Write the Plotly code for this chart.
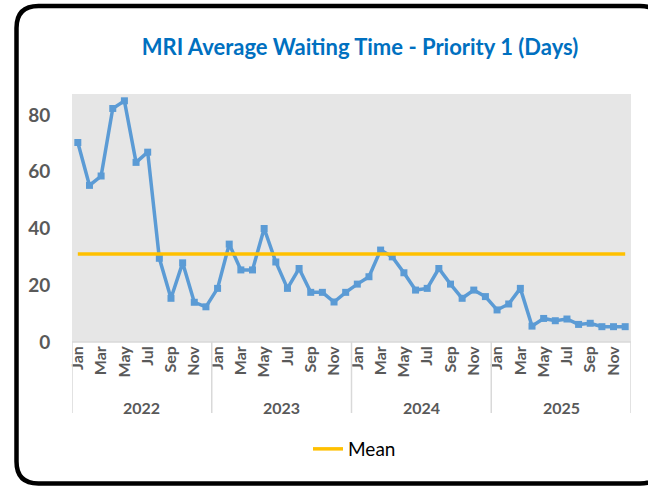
import plotly.graph_objects as go

years = ["2022", "2023", "2024", "2025"]
months = ["Jan", "Feb", "Mar", "Apr", "May", "Jun", "Jul", "Aug", "Sep", "Oct", "Nov", "Dec"]
categories = [f"{m} {y}" for y in years for m in months]

wait_2022 = [70.3, 55.2, 58.5, 82.3, 85.0, 63.3, 66.9, 29.5, 15.4, 27.9, 14.0, 12.4]
wait_2023 = [18.9, 34.5, 25.4, 25.4, 40.0, 28.2, 18.9, 25.9, 17.5, 17.5, 14.1, 17.5]
wait_2024 = [20.4, 23.0, 32.4, 30.0, 24.4, 18.3, 18.9, 25.9, 20.4, 15.4, 18.3, 16.0]
wait_2025 = [11.3, 13.4, 18.9, 5.6, 8.3, 7.5, 8.1, 6.2, 6.6, 5.4, 5.4, 5.4]
waiting = wait_2022 + wait_2023 + wait_2024 + wait_2025
mean_value = 31.0
mean_line = [mean_value] * len(categories)

shown_months = ["Jan", "Mar", "May", "Jul", "Sep", "Nov"]

W, H = 648, 486
L, R, T, B = 72, 17, 94, 144
PW, PH = W - L - R, H - T - B

def px_x(px):
    return (px - L) / PW

def px_y(py):
    return (H - B - py) / PH

fig = go.Figure()
fig.add_trace(go.Scatter(
    x=categories, y=waiting, mode="lines+markers", name="Waiting",
    line=dict(color="#5B9BD5", width=3.5),
    marker=dict(symbol="square", size=7, color="#5B9BD5"),
    showlegend=False,
))
fig.add_trace(go.Scatter(
    x=categories, y=mean_line, mode="lines", name="Mean",
    line=dict(color="#FFC000", width=3.5),
))

tickvals = [c for c in categories if c.split()[0] in shown_months]
ticktext = [c.split()[0] for c in tickvals]

shapes = []
for i in range(len(years) + 1):
    xv = i * 12 - 0.5
    shapes.append(dict(type="line", xref="x", yref="paper", x0=xv, x1=xv,
                       y0=0, y1=px_y(413), line=dict(color="#D9D9D9", width=1.5)))
shapes.append(dict(type="line", xref="paper", yref="paper", x0=0, x1=1, y0=0, y1=0,
                   line=dict(color="#D9D9D9", width=1.5)))

bl, bt, br, bb, rad = 16.5, 6, 662, 483.5, 22
def P(x, y):
    return f"{px_x(x):.5f},{px_y(y):.5f}"
path = (f"M {P(bl + rad, bt)} L {P(br - rad, bt)} Q {P(br, bt)} {P(br, bt + rad)} "
        f"L {P(br, bb - rad)} Q {P(br, bb)} {P(br - rad, bb)} "
        f"L {P(bl + rad, bb)} Q {P(bl, bb)} {P(bl, bb - rad)} "
        f"L {P(bl, bt + rad)} Q {P(bl, bt)} {P(bl + rad, bt)} Z")
shapes.append(dict(type="path", xref="paper", yref="paper", path=path,
                   line=dict(color="black", width=4.5), layer="above"))

annotations = []
for i, y in enumerate(years):
    annotations.append(dict(x=i * 12 + 5.5, xref="x", y=px_y(407), yref="paper",
                            text=y, showarrow=False, xanchor="center", yanchor="middle",
                            font=dict(family="Lato", size=16, color="#595959", weight="bold")))

fig.update_layout(
    width=W, height=H,
    margin=dict(l=L, r=R, t=T, b=B, autoexpand=False),
    paper_bgcolor="white",
    plot_bgcolor="#E6E6E6",
    title=dict(text="MRI Average Waiting Time - Priority 1 (Days)",
               x=(360 - L) / PW, xref="paper", xanchor="center",
               y=1 - 47 / H, yref="container", yanchor="middle",
               font=dict(family="Lato", size=22, color="#0070C0", weight="bold")),
    xaxis=dict(type="category", categoryorder="array", categoryarray=categories,
               range=[-0.5, len(categories) - 0.5],
               tickmode="array", tickvals=tickvals, ticktext=ticktext, tickangle=-90,
               tickfont=dict(family="Lato", size=16, color="#595959", weight="bold"),
               showgrid=False, zeroline=False, showline=False, ticks=""),
    yaxis=dict(range=[0, 87.4], tickmode="array", tickvals=[0, 20, 40, 60, 80],
               tickfont=dict(family="Lato", size=19, color="#595959", weight="bold"),
               showgrid=False, zeroline=False, showline=False,
               ticks="outside", ticklen=17, tickcolor="rgba(0,0,0,0)"),
    legend=dict(orientation="h", x=px_x(308), xanchor="left", y=px_y(449), yanchor="middle",
                font=dict(family="Lato", size=19, color="black"), bgcolor="rgba(0,0,0,0)"),
    shapes=shapes,
    annotations=annotations,
)

fig.write_html("out.html", config={"displayModeBar": False},
               post_script="document.body.style.margin='0';")
